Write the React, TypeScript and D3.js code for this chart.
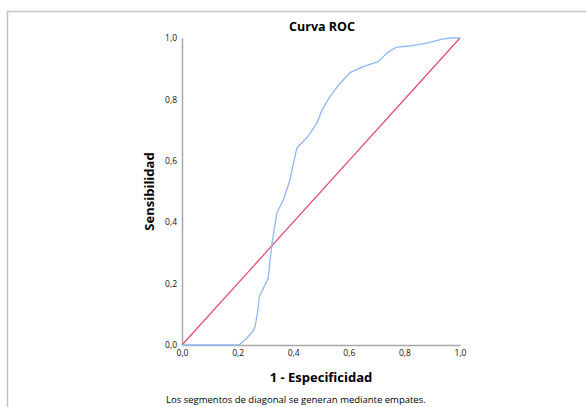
import React, { useEffect, useRef } from "react";
import * as d3 from "d3";

// ROC curve (1 - especificidad, sensibilidad)
const fpr = [0, 0.1, 0.2, 0.209, 0.233, 0.255, 0.263, 0.274, 0.278, 0.31, 0.323, 0.341, 0.367, 0.388, 0.413, 0.454, 0.485, 0.503, 0.532, 0.568, 0.604, 0.652, 0.706, 0.742, 0.772, 0.82, 0.88, 0.94, 0.97, 1];
const tpr = [0, 0, 0, 0.003, 0.022, 0.045, 0.06, 0.12, 0.157, 0.217, 0.326, 0.43, 0.478, 0.537, 0.641, 0.681, 0.722, 0.764, 0.809, 0.852, 0.887, 0.907, 0.923, 0.955, 0.97, 0.974, 0.983, 0.997, 1, 1];
const ticks = [0, 0.2, 0.4, 0.6, 0.8, 1];

const W = 586;
const H = 407;

export default function App() {
  const ref = useRef<SVGSVGElement>(null);

  useEffect(() => {
    const svg = d3.select(ref.current);
    svg.selectAll("*").remove();

    const x = d3.scaleLinear().domain([0, 1]).range([182, 460]);
    const y = d3.scaleLinear().domain([0, 1]).range([345, 38]);
    const fmt = (d: number) => d.toFixed(1).replace(".", ",");
    const font = "'Open Sans', 'DejaVu Sans', sans-serif";

    // frame
    svg.append("path")
      .attr("d", `M7.5,${H} L7.5,11.5 L${W},11.5`)
      .attr("fill", "none")
      .attr("stroke", "#c4c4c4")
      .attr("stroke-width", 1.5);

    const xAxis = svg.append("g")
      .attr("transform", `translate(0,${y(0)})`)
      .call(d3.axisBottom(x).tickValues(ticks).tickFormat(fmt as any).tickSize(0).tickPadding(5));
    const yAxis = svg.append("g")
      .attr("transform", `translate(${x(0)},0)`)
      .call(d3.axisLeft(y).tickValues(ticks).tickFormat(fmt as any).tickSize(0).tickPadding(5));

    [xAxis, yAxis].forEach(a => {
      a.select(".domain").attr("stroke", "#a8a8a8").attr("stroke-width", 1.5);
      a.selectAll("text").attr("font-family", font).attr("font-size", 8.5).attr("fill", "#111");
    });

    // reference diagonal
    svg.append("line")
      .attr("x1", x(0)).attr("y1", y(0))
      .attr("x2", x(1)).attr("y2", y(1))
      .attr("stroke", "#e6476d")
      .attr("stroke-width", 1.2);

    const line = d3.line<number>()
      .x((_, i) => x(fpr[i]))
      .y(d => y(d));

    svg.append("path")
      .datum(tpr)
      .attr("d", line)
      .attr("fill", "none")
      .attr("stroke", "#8fb8f2")
      .attr("stroke-width", 1.3)
      .attr("stroke-linejoin", "round");

    svg.append("text")
      .attr("x", 322).attr("y", 31)
      .attr("text-anchor", "middle")
      .attr("font-family", font).attr("font-weight", "bold").attr("font-size", 12.5)
      .text("Curva ROC");

    svg.append("text")
      .attr("transform", `translate(154,${(y(0) + y(1)) / 2}) rotate(-90)`)
      .attr("text-anchor", "middle")
      .attr("font-family", font).attr("font-weight", "bold").attr("font-size", 13)
      .text("Sensibilidad");

    svg.append("text")
      .attr("x", 321).attr("y", 382)
      .attr("text-anchor", "middle")
      .attr("font-family", font).attr("font-weight", "bold").attr("font-size", 13)
      .text("1 - Especificidad");

    svg.append("text")
      .attr("x", 166).attr("y", 403)
      .attr("font-family", font).attr("font-size", 9.5)
      .text("Los segmentos de diagonal se generan mediante empates.");
  }, []);

  return (
    <svg ref={ref} width={W} height={H} style={{ position: "absolute", left: 0, top: 0, background: "#fff" }} />
  );
}
